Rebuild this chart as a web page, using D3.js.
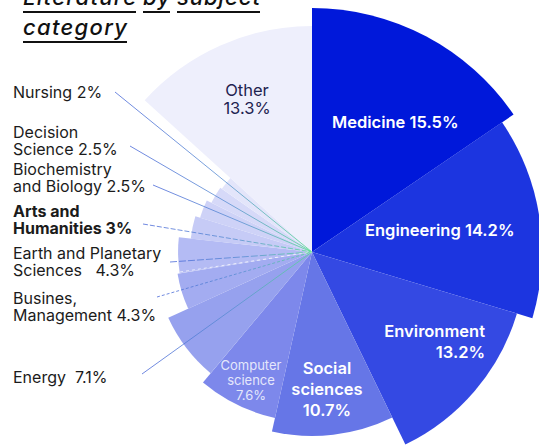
<!DOCTYPE html>
<html>
<head>
<meta charset="utf-8">
<script src="https://cdn.jsdelivr.net/npm/d3@7"></script>
<style>
  body { margin: 0; background: #fff; }
  svg { display: block; font-family: Inter, "Noto Sans", sans-serif; }
</style>
</head>
<body>
<div class="chart"></div>
<script>
// data
var categories = ["Medicine", "Engineering", "Environment", "Social sciences",
    "Computer science", "Energy", "Busines, Management", "Earth and Planetary Sciences",
    "Arts and Humanities", "Biochemistry and Biology", "Decision Science", "Nursing", "Other"];
var shares = [15.5, 14.2, 13.2, 10.7, 7.6, 7.1, 4.3, 4.3, 3, 2.5, 2.5, 2, 13.3];
// relative length of each slice (longest = 1)
var reach = [1, 0.943, 0.877, 0.754, 0.697, 0.648, 0.558, 0.549, 0.5, 0.48, 0.459, 0.451, 0.926];
var labels = [
    ["Medicine 15.5%"],
    ["Engineering 14.2%"],
    ["Environment", "13.2%"],
    ["Social", "sciences", "10.7%"],
    ["Computer", "science", "7.6%"],
    ["Energy  7.1%"],
    ["Busines,", "Management 4.3%"],
    ["Earth and Planetary", "Sciences   4.3%"],
    ["Arts and", "Humanities 3%"],
    ["Biochemistry", "and Biology 2.5%"],
    ["Decision", "Science 2.5%"],
    ["Nursing 2%"],
    ["Other", "13.3%"]
];

var palette = ["#0018da", "#1c35e0", "#3449e3", "#6676e7", "#7d88eb", "#96a1ee",
    "#a3acf1", "#b4bbf4", "#c6cbf6", "#ced2f7", "#d6d9f8", "#e3e5fa", "#eeeffc"];

var width = 539, height = 446;
var cx = 312, cy = 252;

var svg = d3.select(".chart")
    .append("svg")
    .attr("width", width)
    .attr("height", height);

var data = categories.map(function (c, i) {
    return { name: c, share: shares[i], reach: reach[i], lines: labels[i], i: i };
});

var r = d3.scaleLinear().domain([0, 1]).range([0, 244]);

var pie = d3.pie()
    .sort(null)
    .value(function (d) { return d.share; })
    .startAngle(0)
    .endAngle(2 * Math.PI);

var arc = d3.arc()
    .innerRadius(0)
    .outerRadius(function (d) { return r(d.data.reach); });

var g = svg.append("g").attr("transform", "translate(" + cx + "," + cy + ")");

g.selectAll(".slice")
    .data(pie(data))
    .enter().append("path")
    .attr("class", "slice")
    .attr("d", arc)
    .attr("fill", function (d) { return palette[d.data.i]; });

// leader lines for the small slices, labels sit on the left
var outside = {
    11: { x: 13, y: 98, lx: 115, ly: 92, dash: null },
    10: { x: 13, y: 138, lx: 130, ly: 146, dash: null },
    9:  { x: 13, y: 175, lx: 153, ly: 185, dash: null },
    8:  { x: 13, y: 217, lx: 143, ly: 224, dash: "5,2", bold: true },
    7:  { x: 13, y: 259, lx: 170, ly: 262, dash: "7,2" },
    6:  { x: 13, y: 304, lx: 157, ly: 297, dash: "3,2" },
    5:  { x: 13, y: 383, lx: 142, ly: 374, dash: null }
};

var defs = svg.append("defs");
var lineLayer = svg.append("g");

Object.keys(outside).forEach(function (k) {
    var o = outside[k];
    var id = "lead" + k;
    var grad = defs.append("linearGradient")
        .attr("id", id)
        .attr("gradientUnits", "userSpaceOnUse")
        .attr("x1", o.lx).attr("y1", o.ly)
        .attr("x2", cx).attr("y2", cy);
    grad.append("stop").attr("offset", "0%").attr("stop-color", "#4a68d8");
    grad.append("stop").attr("offset", "55%").attr("stop-color", "#5a8fd2");
    grad.append("stop").attr("offset", "100%").attr("stop-color", "#58e090");
    lineLayer.append("line")
        .attr("x1", o.lx).attr("y1", o.ly)
        .attr("x2", cx).attr("y2", cy)
        .attr("stroke", "url(#" + id + ")")
        .attr("stroke-width", 0.8)
        .attr("stroke-dasharray", o.dash);
});
// a faint white dotted stroke inside the Earth slice
lineLayer.append("line")
    .attr("x1", 180).attr("y1", 272).attr("x2", cx).attr("y2", cy)
    .attr("stroke", "#ffffff").attr("stroke-width", 0.9)
    .attr("stroke-dasharray", "3,3").attr("opacity", 0.8);

var labelLayer = svg.append("g");

Object.keys(outside).forEach(function (k) {
    var o = outside[k];
    var t = labelLayer.append("text")
        .attr("x", o.x).attr("y", o.y)
        .attr("font-size", 16)
        .attr("fill", "#1b1b1b")
        .attr("font-weight", o.bold ? 700 : 400)
        .style("white-space", "pre");
    data[k].lines.forEach(function (line, j) {
        t.append("tspan").attr("x", o.x).attr("y", o.y + j * 17).text(line);
    });
});

// labels inside slices
var inside = [
    { i: 0, x: 332, y: 128, anchor: "start", size: 16.5, weight: 600, fill: "#fff", lh: 21 },
    { i: 1, x: 365, y: 236, anchor: "start", size: 16.5, weight: 600, fill: "#fff", lh: 21 },
    { i: 2, x: 485, y: 337, anchor: "end", size: 16.5, weight: 600, fill: "#fff", lh: 21 },
    { i: 3, x: 327, y: 374, anchor: "middle", size: 16.5, weight: 600, fill: "#fff", lh: 21 },
    { i: 4, x: 251, y: 370, anchor: "middle", size: 13, weight: 400, fill: "#e4e7fb", lh: 15 },
    { i: 12, x: 247, y: 96, anchor: "middle", size: 16.5, weight: 400, fill: "#1e2350", lh: 18 }
];

inside.forEach(function (o) {
    var t = labelLayer.append("text")
        .attr("x", o.x).attr("y", o.y)
        .attr("text-anchor", o.anchor)
        .attr("font-size", o.size)
        .attr("font-weight", o.weight)
        .attr("fill", o.fill);
    data[o.i].lines.forEach(function (line, j) {
        t.append("tspan").attr("x", o.x).attr("y", o.y + j * o.lh).text(line);
    });
});

// title, cut at the top edge, each word underlined on its own
var title = [["Literature", "by", "subject"], ["category"]];
var titleWidth = { "Literature": 113, "by": 27, "subject": 83, "category": 104 };
var titleLayer = svg.append("g");
title.forEach(function (words, row) {
    var y = 5 + row * 30;
    var x = 23;
    words.forEach(function (w) {
        var len = titleWidth[w];
        titleLayer.append("text")
            .attr("x", x).attr("y", y)
            .attr("font-size", 22)
            .attr("font-style", "italic")
            .attr("font-weight", 500)
            .attr("fill", "#111")
            .attr("textLength", len)
            .attr("lengthAdjust", "spacing")
            .text(w);
        titleLayer.append("rect")
            .attr("x", x).attr("y", y + 6)
            .attr("width", len).attr("height", 2)
            .attr("fill", "#111");
        x += len + 7;
    });
});
</script>
</body>
</html>
